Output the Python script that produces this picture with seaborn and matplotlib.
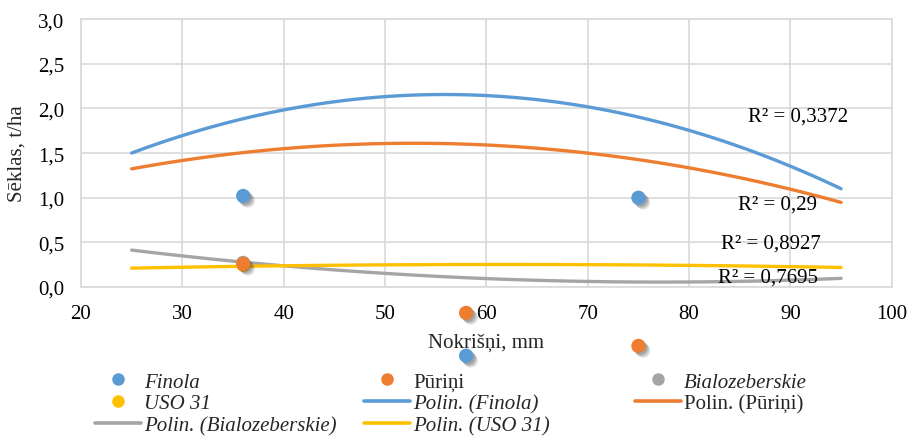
import numpy as np
import pandas as pd
import matplotlib
matplotlib.use("Agg")
import matplotlib.pyplot as plt
import matplotlib.patheffects as pe
from matplotlib.lines import Line2D
import seaborn as sns

# Observed seed yield (t/ha) against precipitation (mm)
precip = [36, 58, 75]
finola = [1.02, -0.77, 1.00]
puirini = [0.26, -0.29, -0.66]
bialo_pts_x = [36]
bialo_pts = [0.27]
uso_pts_x = [36]
uso_pts = [0.25]

# Polynomial trend values
trend_x = [25, 30, 40, 50, 60, 70, 80, 95]
trend_finola = [1.50, 1.70, 1.98, 2.13, 2.14, 2.03, 1.75, 1.10]
trend_puirini = [1.32, 1.42, 1.55, 1.61, 1.59, 1.50, 1.33, 0.95]
trend_bialo = [0.41, 0.35, 0.24, 0.15, 0.10, 0.06, 0.05, 0.10]
trend_uso = [0.21, 0.22, 0.24, 0.25, 0.25, 0.25, 0.24, 0.22]

r2_labels = ["R² = 0,3372", "R² = 0,29", "R² = 0,8927", "R² = 0,7695"]
r2_pos = [(90.8, 1.91), (88.7, 0.93), (88.1, 0.49), (87.8, 0.11)]

x_ticks = [20, 30, 40, 50, 60, 70, 80, 90, 100]
y_ticks = [0.0, 0.5, 1.0, 1.5, 2.0, 2.5, 3.0]

C_BLUE = "#5B9BD5"
C_ORANGE = "#ED7D31"
C_GRAY = "#A5A5A5"
C_YELLOW = "#FFC000"
FS = 15

sns.set_style("white")
plt.rcParams["font.family"] = ["Liberation Serif", "DejaVu Serif"]

fig = plt.figure(figsize=(9.11, 4.39), dpi=100)
ax = fig.add_axes([0.0889, 0.344, 0.890, 0.610])

trend = pd.DataFrame({"x": trend_x, "finola": trend_finola, "puirini": trend_puirini,
                      "bialo": trend_bialo, "uso": trend_uso})
for col, c in [("finola", C_BLUE), ("puirini", C_ORANGE), ("bialo", C_GRAY), ("uso", C_YELLOW)]:
    sns.regplot(data=trend, x="x", y=col, order=2, ci=None, scatter=False, truncate=True,
                line_kws={"color": c, "lw": 2.4, "zorder": 3}, ax=ax)

# soft drop shadow built from a few faint offset copies
shadow = [pe.SimplePatchShadow(offset=(o, -o), shadow_rgbFace="#333333", alpha=a)
          for o, a in [(3.5, 0.10), (2.8, 0.13), (2.0, 0.16), (1.2, 0.16)]] + [pe.Normal()]

for xs, ys, c in [(bialo_pts_x, bialo_pts, C_GRAY), (uso_pts_x, uso_pts, C_YELLOW)]:
    ax.scatter(xs, ys, s=105, color=c, edgecolor="none", zorder=4, clip_on=False)
for xs, ys, c in [(precip, finola, C_BLUE), (precip, puirini, C_ORANGE)]:
    sc = ax.scatter(xs, ys, s=105, color=c, edgecolor="none", zorder=4, clip_on=False)
    sc.set_path_effects(shadow)

for lab, (tx, ty) in zip(r2_labels, r2_pos):
    ax.text(tx, ty, lab, ha="center", va="center", fontsize=FS, color="#000000", zorder=5)

ax.set_xlim(20, 100)
ax.set_ylim(0, 3.0)
ax.set_xticks(x_ticks)
ax.set_yticks(y_ticks)
ax.set_xticklabels([str(v) for v in x_ticks])
ax.set_yticklabels([f"{v:.1f}".replace(".", ",") for v in y_ticks])
ax.tick_params(axis="both", length=0, labelsize=FS, colors="#000000")
ax.tick_params(axis="x", pad=12)
ax.tick_params(axis="y", pad=12)
ax.grid(True, color="#D9D9D9", lw=1.2)
ax.set_axisbelow(True)
for sp in ax.spines.values():
    sp.set_color("#D9D9D9")
    sp.set_linewidth(1.2)
ax.set_xlabel("Nokrišņi, mm", fontsize=FS, labelpad=7)
ax.set_ylabel("Sēklas, t/ha", fontsize=FS, labelpad=8)

def dot(c):
    return Line2D([], [], marker="o", linestyle="none", color=c, markersize=8)

def seg(c):
    return Line2D([], [], color=c, lw=2.6)

columns = [
    ([dot(C_BLUE), dot(C_YELLOW), seg(C_GRAY)],
     ["Finola", "USO 31", "Polin. (Bialozeberskie)"], [True, True, True], 0.104),
    ([dot(C_ORANGE), seg(C_BLUE), seg(C_YELLOW)],
     ["Pūriņi", "Polin. (Finola)", "Polin. (USO 31)"], [False, True, True], 0.400),
    ([dot(C_GRAY), seg(C_ORANGE)],
     ["Bialozeberskie", "Polin. (Pūriņi)"], [True, False], 0.697),
]
for handles, labels, italics, x0 in columns:
    leg = fig.legend(handles, labels, loc="upper left", bbox_to_anchor=(x0, 0.150),
                     frameon=False, fontsize=FS, borderpad=0, borderaxespad=0,
                     handlelength=2.2, handletextpad=0.15, labelspacing=0.1)
    for t, it in zip(leg.get_texts(), italics):
        if it:
            t.set_style("italic")

fig.savefig("out.png", dpi=100)
